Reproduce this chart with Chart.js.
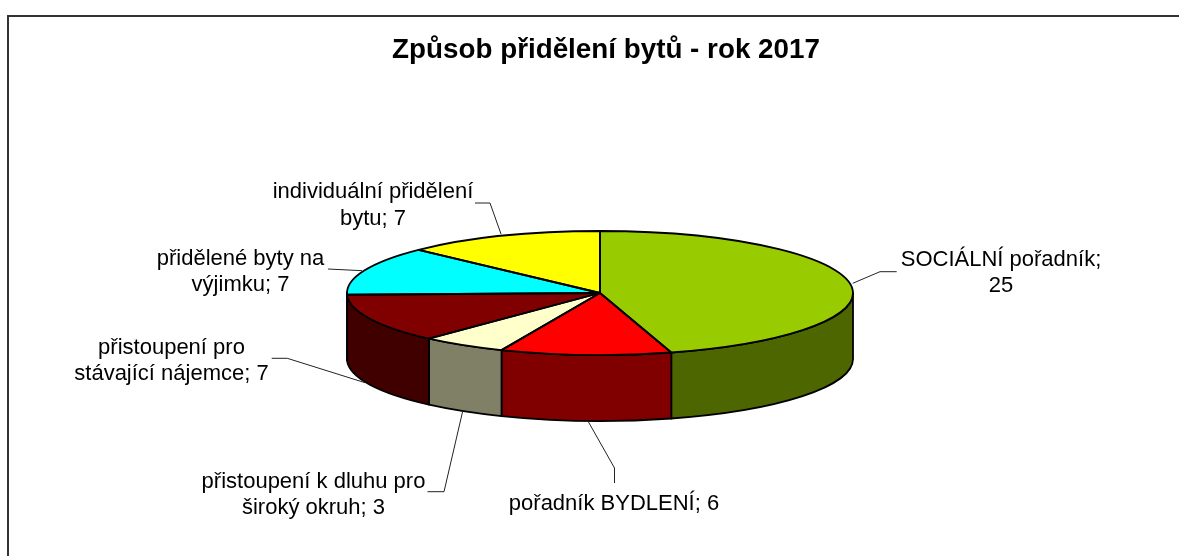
<!DOCTYPE html>
<html lang="cs">
<head>
<meta charset="utf-8">
<title>Způsob přidělení bytů - rok 2017</title>
<script src="https://cdn.jsdelivr.net/npm/chart.js@4/dist/chart.umd.min.js"></script>
<style>
html,body{margin:0;padding:0;width:1179px;height:556px;overflow:hidden;background:#fff}
#frame{position:absolute;left:7px;top:15px;width:1300px;height:700px;border:2px solid #333;box-sizing:border-box}
#c{position:absolute;left:9px;top:17px}
</style>
</head>
<body>
<div id="frame"></div>
<canvas id="c" width="1194" height="539"></canvas>
<script>
const chartTitle = 'Způsob přidělení bytů - rok 2017';
const categories = ['SOCIÁLNÍ pořadník','pořadník BYDLENÍ','přistoupení k dluhu pro široký okruh','přistoupení pro stávající nájemce','přidělené byty na výjimku','individuální přidělení bytu'];
const values = [25,6,3,7,7,7];
const topColors = ['#99CC00','#FF0000','#FFFFCC','#800000','#00FFFF','#FFFF00'];
const sideColors = ['#4D6600','#800000','#808066','#400000','#008080','#808000'];
const wordsOnFirstLine = [2,99,4,2,3,2];

// page-space layout
const ORIGIN = {x:9, y:17};
const PIE = {cx:600, cy:293, rx:253, ry:62, depth:66};
const LABEL_FONT = '22px "Liberation Sans"';
const LABEL_BOXES = [
  {x:1001, y:[266,292], leader:[[852.7,283.3],[880,271.7],[896.7,271.7]]},
  {x:614,  y:[510],     leader:[[588.5,422],[614.5,468],[614.5,483]]},
  {x:313.5,y:[488,514], leader:[[462.5,412],[444,491.7],[427.5,491.7]]},
  {x:171.5,y:[354,380], leader:[[365,382.7],[287.3,358.3],[271.7,358.3]]},
  {x:240.5,y:[265,291], leader:[[362,270.7],[328,269]]},
  {x:373,  y:[198,225], leader:[[501,234],[490,203],[475,203]]}
];

function labelLines(i){
  const words = (categories[i] + '; ' + values[i]).split(' ');
  const n = wordsOnFirstLine[i];
  const first = words.slice(0,n).join(' ');
  const rest = words.slice(n).join(' ');
  return rest ? [first,rest] : [first];
}

const pie3d = {
  id:'pie3d',
  beforeDatasetsDraw(chart){
    const ctx = chart.ctx;
    const cx = PIE.cx-ORIGIN.x, cy = PIE.cy-ORIGIN.y;
    const arcs = chart.getDatasetMeta(0).data;
    // extruded side walls from the arc elements' angles
    ctx.save();
    ctx.lineWidth = 1.8; ctx.strokeStyle = '#000'; ctx.lineJoin='round';
    arcs.forEach((arc,i)=>{
      const p = arc.getProps(['startAngle','endAngle'],true);
      const a0 = Math.max(p.startAngle,0), a1 = Math.min(p.endAngle,Math.PI);
      if(a1<=a0) return;
      ctx.beginPath();
      ctx.ellipse(cx,cy,PIE.rx,PIE.ry,0,a0,a1,false);
      ctx.ellipse(cx,cy+PIE.depth,PIE.rx,PIE.ry,0,a1,a0,true);
      ctx.closePath();
      ctx.fillStyle = sideColors[i];
      ctx.fill(); ctx.stroke();
    });
    ctx.restore();
    // squash the library's own pie into the ellipse
    const p0 = arcs[0].getProps(['x','y','outerRadius'],true);
    ctx.save();
    ctx.translate(cx,cy);
    ctx.scale(PIE.rx/p0.outerRadius,PIE.ry/p0.outerRadius);
    ctx.translate(-p0.x,-p0.y);
  },
  afterDatasetsDraw(chart){
    const ctx = chart.ctx;
    ctx.restore();
    const cx = PIE.cx-ORIGIN.x, cy = PIE.cy-ORIGIN.y;
    const arcs = chart.getDatasetMeta(0).data;
    ctx.save();
    ctx.lineWidth = 1.8; ctx.strokeStyle = '#000'; ctx.lineJoin='round';
    arcs.forEach(arc=>{
      const p = arc.getProps(['startAngle','endAngle'],true);
      ctx.beginPath();
      ctx.moveTo(cx,cy);
      ctx.ellipse(cx,cy,PIE.rx,PIE.ry,0,p.startAngle,p.endAngle,false);
      ctx.closePath();
      ctx.stroke();
    });
    // leader lines and data labels
    ctx.lineWidth = 1; ctx.strokeStyle = '#222';
    LABEL_BOXES.forEach((b,i)=>{
      ctx.beginPath();
      b.leader.forEach((pt,k)=>{
        const x=pt[0]-ORIGIN.x, y=pt[1]-ORIGIN.y;
        k?ctx.lineTo(x,y):ctx.moveTo(x,y);
      });
      ctx.stroke();
      ctx.font = LABEL_FONT; ctx.fillStyle='#000';
      ctx.textAlign='center'; ctx.textBaseline='alphabetic';
      labelLines(i).forEach((t,k)=>ctx.fillText(t,b.x-ORIGIN.x,b.y[k]-ORIGIN.y));
    });
    ctx.restore();
  }
};

new Chart(document.getElementById('c'),{
  type:'pie',
  data:{labels:categories,datasets:[{data:values,backgroundColor:topColors,borderWidth:0,clip:false}]},
  options:{
    responsive:false,animation:false,
    layout:{padding:{top:0,left:300,right:300,bottom:10}},
    plugins:{
      legend:{display:false},tooltip:{enabled:false},
      title:{display:true,text:chartTitle,color:'#000',
        font:{family:'"Liberation Sans"',size:27.8,weight:'bold',lineHeight:1.2},
        padding:{top:17,bottom:10}}
    }
  },
  plugins:[pie3d]
});
</script>
</body>
</html>
